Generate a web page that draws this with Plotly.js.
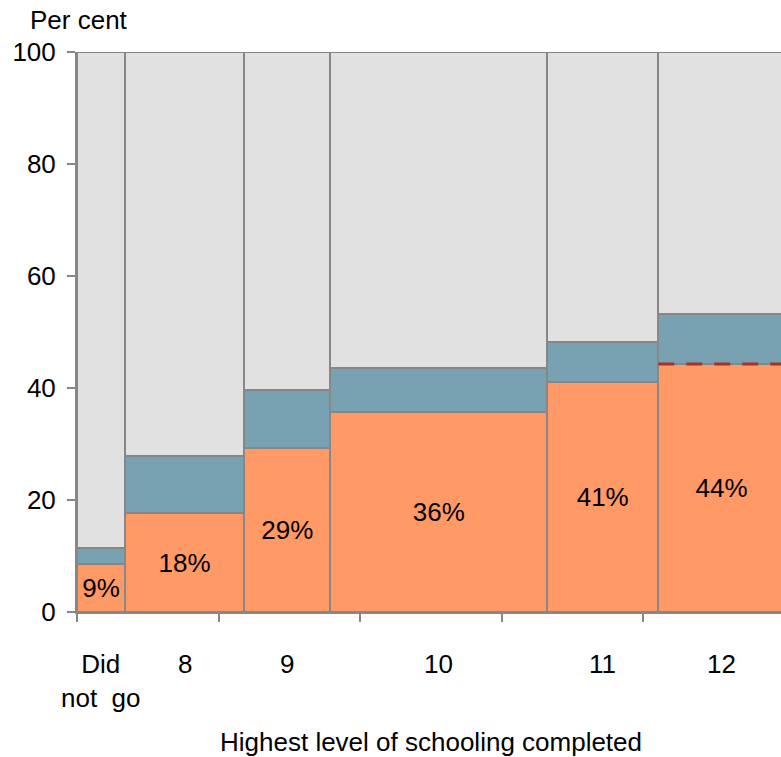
<!DOCTYPE html>
<html>
<head>
<meta charset="utf-8">
<script src="https://cdn.plot.ly/plotly-3.0.1.min.js"></script>
<style>
html,body{margin:0;padding:0;overflow:hidden;background:#fff;}
#chart{width:785px;height:757px;}
</style>
</head>
<body>
<div id="chart"></div>
<script>
// Categories: highest level of schooling completed
var categories = ["Did<br>not\u00a0\u00a0go", "8", "9", "10", "11", "12"];
// Column widths (share of population, per cent)
var widths = [6.8, 16.8, 12.2, 30.6, 15.7, 17.9];
// Lower (orange) segment values, per cent
var orangeVals = [8.5, 17.6, 29.2, 35.7, 41.1, 44.3];
// Top of middle (blue) segment, per cent
var blueTops = [11.5, 27.9, 39.6, 43.6, 48.2, 53.2];
// Labels inside orange segments
var orangeLabels = ["9%", "18%", "29%", "36%", "41%", "44%"];
// Y ticks
var yTicks = [0, 20, 40, 60, 80, 100];
var xTicks = [0, 20, 40, 60, 80, 100];

var lefts = [], centers = [], acc = 0;
for (var i = 0; i < widths.length; i++) {
  lefts.push(acc);
  centers.push(acc + widths[i] / 2);
  acc += widths[i];
}
var blueVals = blueTops.map(function (t, i) { return t - orangeVals[i]; });
var greyVals = blueTops.map(function (t) { return 100 - t; });

var lineStyle = {color: "#878787", width: 2};
var FONT = "Liberation Sans, Arial, sans-serif";
var FS = 26;

var traces = [
  {type: "bar", x: centers, y: orangeVals, width: widths,
   marker: {color: "#FF9966", line: lineStyle},
   text: orangeLabels, texttemplate: "%{text}", textposition: "inside",
   insidetextanchor: "middle", textangle: 0, constraintext: "none",
   textfont: {family: FONT, size: FS, color: "#000"},
   hoverinfo: "skip", showlegend: false},
  {type: "bar", x: centers, y: blueVals, width: widths,
   marker: {color: "#78A2B2", line: lineStyle},
   hoverinfo: "skip", showlegend: false},
  {type: "bar", x: centers, y: greyVals, width: widths,
   marker: {color: "#E1E1E1", line: lineStyle},
   hoverinfo: "skip", showlegend: false},
  {type: "scatter", mode: "lines",
   x: [lefts[5], lefts[5] + widths[5]], y: [orangeVals[5], orangeVals[5]],
   line: {color: "#A63329", width: 3, dash: "16px,12px"},
   hoverinfo: "skip", showlegend: false}
];

var H = 757, T = 52, B = 145;
function pxToPaper(py) { return (H - B - py) / (H - T - B); }

var annotations = categories.map(function (c, i) {
  return {x: centers[i], xref: "x", y: pxToPaper(647), yref: "paper", yanchor: "top",
          text: c, showarrow: false,
          font: {family: FONT, size: FS, color: "#000"}};
});
annotations.push({x: 0, xref: "paper", xanchor: "left", xshift: -49,
  y: pxToPaper(20), yref: "paper", yanchor: "middle", text: "Per cent",
  showarrow: false, font: {family: FONT, size: FS, color: "#000"}});
annotations.push({x: 0.5, xref: "paper", xanchor: "center",
  y: pxToPaper(742), yref: "paper", yanchor: "middle",
  text: "Highest level of schooling completed",
  showarrow: false, font: {family: FONT, size: FS, color: "#000"}});

var layout = {
  width: 785, height: H,
  margin: {l: 77, r: 0, t: T, b: B},
  paper_bgcolor: "#fff", plot_bgcolor: "#fff",
  barmode: "stack", bargap: 0,
  font: {family: FONT, size: FS, color: "#000"},
  xaxis: {range: [0, 100], tickvals: xTicks, ticktext: xTicks.map(function(){return "";}),
          ticks: "outside", ticklen: 8, tickwidth: 2, tickcolor: "#878787",
          showline: true, linecolor: "#878787", linewidth: 2,
          showgrid: false, zeroline: false, fixedrange: true},
  yaxis: {range: [0, 100], tickvals: yTicks,
          ticks: "outside", ticklen: 8, tickwidth: 2, tickcolor: "#878787",
          ticklabelstandoff: 6,
          showline: true, linecolor: "#878787", linewidth: 2,
          showgrid: false, zeroline: false, fixedrange: true,
          tickfont: {family: FONT, size: FS, color: "#000"}},
  annotations: annotations
};

Plotly.newPlot("chart", traces, layout, {displayModeBar: false, staticPlot: true});
</script>
</body>
</html>
